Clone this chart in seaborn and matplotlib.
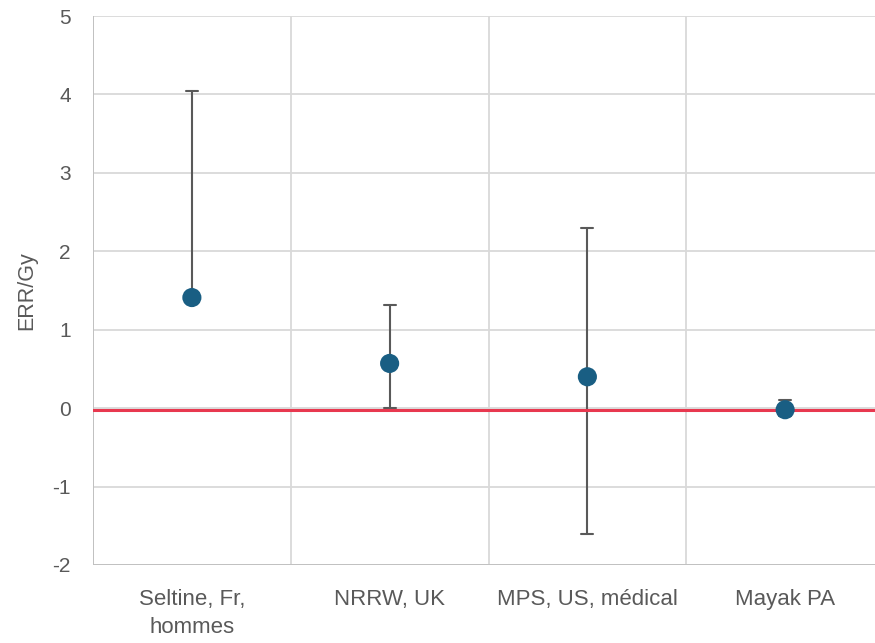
import matplotlib
matplotlib.use("Agg")
import matplotlib.pyplot as plt
import seaborn as sns
import pandas as pd
import numpy as np

# Excess relative risk per Gy by cohort, with confidence bounds
categories = ["Seltine, Fr,\nhommes", "NRRW, UK", "MPS, US, médical", "Mayak PA"]
err_gy = [1.41, 0.57, 0.40, -0.02]
upper_bound = [4.05, 1.31, 2.30, 0.10]
lower_bound = [None, 0.00, -1.60, -0.10]
y_ticks = [-2, -1, 0, 1, 2, 3, 4, 5]
reference_level = -0.02

df = pd.DataFrame({"cohort": categories, "err": err_gy})
df["x"] = np.arange(len(categories))

sns.set_theme(style="white")
plt.rcParams["font.family"] = ["Liberation Sans", "DejaVu Sans"]

fig = plt.figure(figsize=(8.75, 6.43), dpi=100)
ax = fig.add_axes([93 / 875, 1 - 565 / 643, (884 - 93) / 875, (565 - 16) / 643])

grid_col = "#d9d9d9"
text_col = "#595959"

# Horizontal gridlines and vertical category separators
for t in y_ticks:
    ax.axhline(t, color=grid_col, lw=1.3, zorder=0)
for b in np.arange(len(categories) + 1) - 0.5:
    ax.axvline(b, color=grid_col, lw=1.3, zorder=0)

# Error bars: lower bound missing for the first cohort
for i, (e, l, u) in enumerate(zip(err_gy, lower_bound, upper_bound)):
    ax.plot([i, i], [e, u], color=text_col, lw=1.5, zorder=2)
    ax.plot([i - 0.03, i + 0.03], [u, u], color=text_col, lw=1.5, zorder=2)
    if l is not None:
        ax.plot([i, i], [l, e], color=text_col, lw=1.5, zorder=2)
        ax.plot([i - 0.03, i + 0.03], [l, l], color=text_col, lw=1.5, zorder=2)

ax.axhline(reference_level, color="#e8384f", lw=2.2, zorder=3)

sns.scatterplot(data=df, x="x", y="err", ax=ax, s=190, color="#195e83",
                edgecolor="none", zorder=4, legend=False)

ax.set_xlim(-0.5, len(categories) - 0.5)
ax.set_ylim(-2, 5)
ax.set_yticks(y_ticks)
ax.set_yticklabels([str(t) for t in y_ticks])
ax.set_xticks(df["x"])
ax.set_xticklabels(categories, linespacing=1.45)
ax.tick_params(axis="both", length=0, labelcolor=text_col)
ax.tick_params(axis="y", pad=16, labelsize=15)
ax.tick_params(axis="x", pad=17, labelsize=16)
ax.set_xlabel("")
ax.set_ylabel("ERR/Gy", fontsize=15.5, color=text_col, labelpad=11)

for s in ax.spines.values():
    s.set_visible(False)
ax.axvline(-0.5, color="#bfbfbf", lw=1.3, zorder=1)
ax.axhline(-2, color="#bfbfbf", lw=1.3, zorder=1)

fig.savefig("out.png", dpi=100)
